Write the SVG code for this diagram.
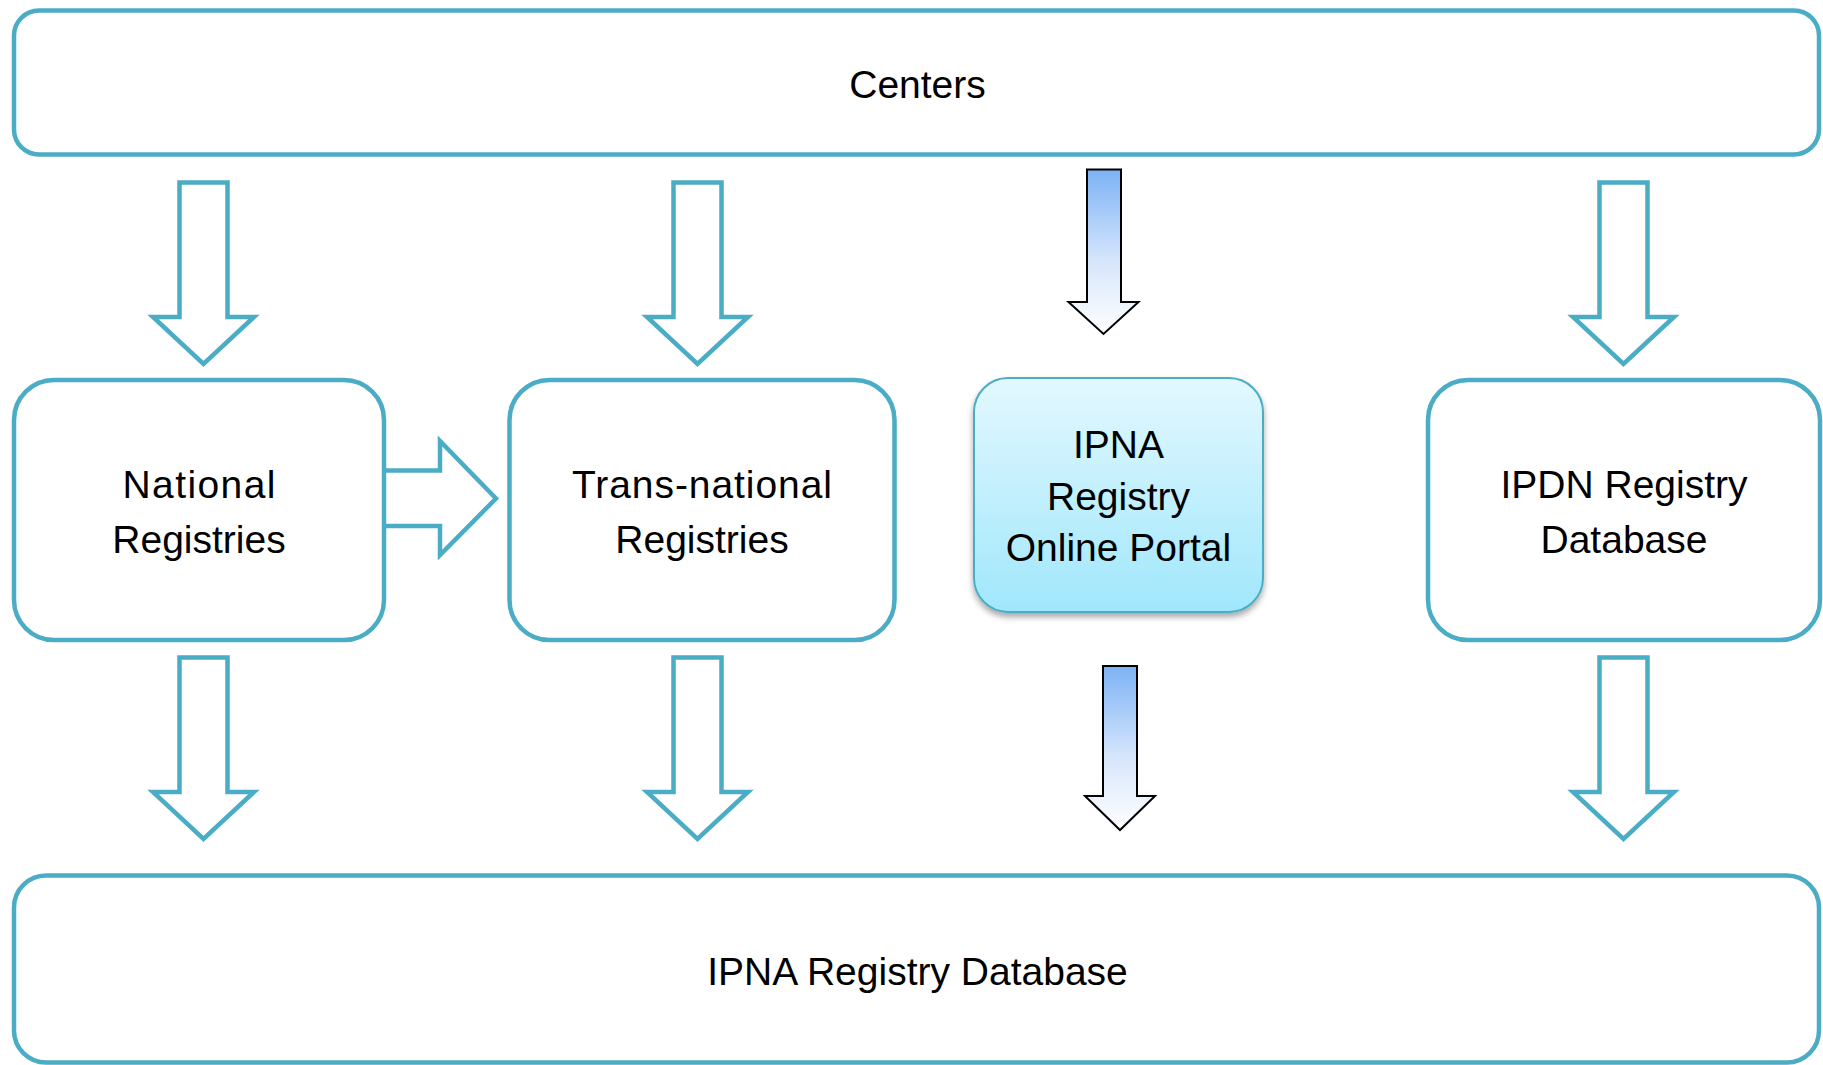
<svg xmlns="http://www.w3.org/2000/svg" width="1823" height="1065" viewBox="0 0 1823 1065">
  <style>
    .box { fill: #ffffff; stroke: #4bacc6; stroke-width: 4.5; }
    .arrow { fill: #ffffff; stroke: #4bacc6; stroke-width: 4.5; stroke-linejoin: miter; }
    .garrow { fill: url(#gArrow); stroke: #000000; stroke-width: 2; stroke-linejoin: miter; }
    .lbl { font-family: "Liberation Sans", Arial, sans-serif; font-size: 39px; fill: #000000; text-anchor: middle; }
  </style>
  <defs>
    <linearGradient id="gArrow" x1="0" y1="0" x2="0" y2="1">
      <stop offset="0" stop-color="#7cb3f5"/>
      <stop offset="0.55" stop-color="#d6e5fb"/>
      <stop offset="1" stop-color="#ffffff"/>
    </linearGradient>
    <linearGradient id="gPortal" x1="0" y1="0" x2="0" y2="1">
      <stop offset="0" stop-color="#e3f8fe"/>
      <stop offset="1" stop-color="#a0e7fc"/>
    </linearGradient>
    <filter id="shadow" x="-10%" y="-10%" width="120%" height="125%">
      <feDropShadow dx="0" dy="4" stdDeviation="3" flood-color="#000000" flood-opacity="0.35"/>
    </filter>
  </defs>

  <g id="connectors">
    <!-- top row -->
    <path class="arrow" d="M179.5,182.5 H227.5 V317 H254 L203.5,364 L153,317 H179.5 Z"/>
    <path class="arrow" d="M673.5,182.5 H721.5 V317 H748 L697.5,364 L647,317 H673.5 Z"/>
    <path class="garrow" d="M1087,169.5 H1121 V302 H1138.5 L1103.5,334 L1068.5,302 H1087 Z"/>
    <path class="arrow" d="M1599.5,182.5 H1647.5 V317 H1674 L1623.5,364 L1573,317 H1599.5 Z"/>
    <!-- horizontal -->
    <path class="arrow" d="M384,470.5 H440 V441 L496,498.5 L440,555 V526 H384"/>
    <!-- bottom row -->
    <path class="arrow" d="M179.5,657.5 H227.5 V792 H254 L203.5,839 L153,792 H179.5 Z"/>
    <path class="arrow" d="M673.5,657.5 H721.5 V792 H748 L697.5,839 L647,792 H673.5 Z"/>
    <path class="garrow" d="M1103,666 H1137 V796 H1155 L1120,830 L1085,796 H1103 Z"/>
    <path class="arrow" d="M1599.5,657.5 H1647.5 V792 H1674 L1623.5,839 L1573,792 H1599.5 Z"/>
  </g>

  <g id="centers">
    <rect class="box" x="14" y="10.5" width="1805" height="144" rx="25" ry="25"/>
    <text class="lbl" x="917.5" y="98">Centers</text>
  </g>

  <g id="national">
    <rect class="box" x="14" y="380" width="370" height="260" rx="40" ry="40"/>
    <text class="lbl" x="199" y="498" textLength="153" lengthAdjust="spacing">National</text>
    <text class="lbl" x="199" y="552.5">Registries</text>
  </g>

  <g id="transnational">
    <rect class="box" x="509.5" y="380" width="385" height="260" rx="40" ry="40"/>
    <text class="lbl" x="702" y="498" textLength="260" lengthAdjust="spacing">Trans-national</text>
    <text class="lbl" x="702" y="552.5">Registries</text>
  </g>

  <g id="portal">
    <rect x="974" y="378" width="289" height="234" rx="34" ry="34" fill="url(#gPortal)" stroke="#4bacc6" stroke-width="2" filter="url(#shadow)"/>
    <text class="lbl" x="1118.5" y="457.5">IPNA</text>
    <text class="lbl" x="1118.5" y="509.5">Registry</text>
    <text class="lbl" x="1118.5" y="560.5">Online Portal</text>
  </g>

  <g id="ipdn">
    <rect class="box" x="1428" y="380" width="392" height="260" rx="40" ry="40"/>
    <text class="lbl" x="1624" y="498">IPDN Registry</text>
    <text class="lbl" x="1624" y="552.5">Database</text>
  </g>

  <g id="database">
    <rect class="box" x="14" y="875.5" width="1805" height="187" rx="32" ry="32"/>
    <text class="lbl" x="917.5" y="985">IPNA Registry Database</text>
  </g>
</svg>
